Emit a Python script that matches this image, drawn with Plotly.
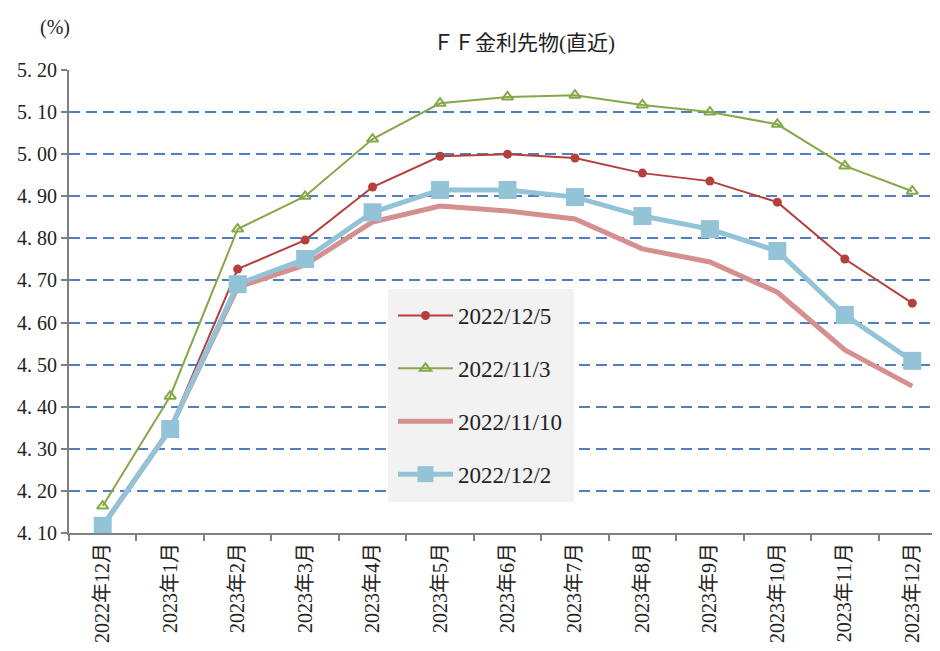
import plotly.graph_objects as go

categories = ["2022年12月", "2023年1月", "2023年2月", "2023年3月", "2023年4月", "2023年5月",
              "2023年6月", "2023年7月", "2023年8月", "2023年9月", "2023年10月", "2023年11月", "2023年12月"]

s_1205 = [4.12, 4.35, 4.727, 4.796, 4.922, 4.995, 5.00, 4.991, 4.955, 4.936, 4.886, 4.751, 4.646]
s_1103 = [4.164, 4.425, 4.822, 4.90, 5.036, 5.121, 5.136, 5.14, 5.117, 5.10, 5.071, 4.972, 4.912]
s_1110 = [4.117, 4.347, 4.684, 4.737, 4.839, 4.877, 4.865, 4.846, 4.775, 4.744, 4.672, 4.535, 4.449]
s_1202 = [4.117, 4.347, 4.691, 4.751, 4.862, 4.915, 4.915, 4.898, 4.853, 4.822, 4.77, 4.618, 4.509]

yticks = [4.10, 4.20, 4.30, 4.40, 4.50, 4.60, 4.70, 4.80, 4.90, 5.00, 5.10, 5.20]
ytick_text = ["4. 10", "4. 20", "4. 30", "4. 40", "4. 50", "4. 60", "4. 70", "4. 80",
              "4. 90", "5. 00", "5. 10", "5. 20"]

FONT = "Liberation Serif, Noto Sans CJK JP, serif"
TXT = "#222222"
x = list(range(len(categories)))

OFF = 8  # page body margin offset
W, H = 940, 651
L, T = 69 - OFF, 70 - OFF
B = H - (533 - OFF)
R = 2
pw, ph = W - L - R, H - T - B


def px_to_paper(px, py):
    # screen pixel -> paper coords
    return (px - OFF - L) / pw, (H - B - (py - OFF)) / ph


fig = go.Figure()
fig.add_trace(go.Scatter(x=x, y=s_1205, name="2022/12/5", mode="lines+markers",
                         line=dict(color="#b3403d", width=2),
                         marker=dict(symbol="circle", size=9, color="#b3403d"),
                         legendgroup="a"))
fig.add_trace(go.Scatter(x=x, y=s_1103, name="2022/11/3", mode="lines+markers",
                         line=dict(color="#87a84a", width=2),
                         marker=dict(symbol="triangle-up-open", size=10, color="#87a84a",
                                     line=dict(width=2, color="#87a84a")),
                         legendgroup="b"))
fig.add_trace(go.Scatter(x=x, y=s_1110, name="2022/11/10", mode="lines",
                         line=dict(color="#d48f8e", width=5),
                         legendgroup="c"))
fig.add_trace(go.Scatter(x=x, y=s_1202, name="2022/12/2", mode="lines+markers",
                         line=dict(color="#92c3d6", width=5),
                         marker=dict(symbol="square", size=18, color="#92c3d6"),
                         legendgroup="d"))

# legend background box
bx0, by0 = px_to_paper(388, 289)
bx1, by1 = px_to_paper(574, 502)
lx, ly = px_to_paper(393, 294)
tx, ty = px_to_paper(524, 43)
ux, uy = px_to_paper(55, 27)

fig.update_layout(
    width=W, height=H,
    margin=dict(l=L, r=R, t=T, b=B, autoexpand=False),
    plot_bgcolor="white", paper_bgcolor="white",
    font=dict(family=FONT, size=16, color=TXT),
    showlegend=True,
    legend=dict(x=lx, y=ly, xanchor="left", yanchor="top",
                bgcolor="rgba(0,0,0,0)", borderwidth=0,
                font=dict(family=FONT, size=23, color=TXT),
                traceorder="grouped", tracegroupgap=20, itemwidth=55,
                itemsizing="trace"),
    xaxis=dict(
        tickmode="array", tickvals=x, ticktext=categories,
        range=[-0.5, 12.5], tickangle=-90,
        showline=True, linecolor="#808080", linewidth=2,
        ticks="", showgrid=False, zeroline=False, automargin=False,
        tickfont=dict(family=FONT, size=20, color=TXT),
        minor=dict(tickmode="array", tickvals=[i - 0.5 for i in range(14)],
                   ticks="outside", ticklen=6, tickcolor="#808080", tickwidth=2),
    ),
    yaxis=dict(
        range=[4.10, 5.20], tickmode="array", tickvals=yticks, ticktext=ytick_text,
        showline=True, linecolor="#808080", linewidth=2,
        ticks="outside", ticklen=6, tickcolor="#808080", tickwidth=2,
        showgrid=True, gridcolor="#4f7fc0", griddash="11px,6px", gridwidth=1.6,
        zeroline=False, automargin=False,
        tickfont=dict(family=FONT, size=20, color=TXT),
    ),
    shapes=[dict(type="rect", xref="paper", yref="paper", x0=bx0, x1=bx1, y0=by0, y1=by1,
                 fillcolor="#f2f2f2", line=dict(width=0), layer="above")],
    annotations=[
        dict(text="ＦＦ金利先物(直近)", x=tx, y=ty, xref="paper", yref="paper",
             xanchor="center", yanchor="middle",
             showarrow=False, font=dict(family=FONT, size=21, color=TXT)),
        dict(text="(%)", x=ux, y=uy, xref="paper", yref="paper", showarrow=False,
             xanchor="center", yanchor="middle",
             font=dict(family=FONT, size=20, color=TXT)),
    ],
)

fig.write_html("out.html")
